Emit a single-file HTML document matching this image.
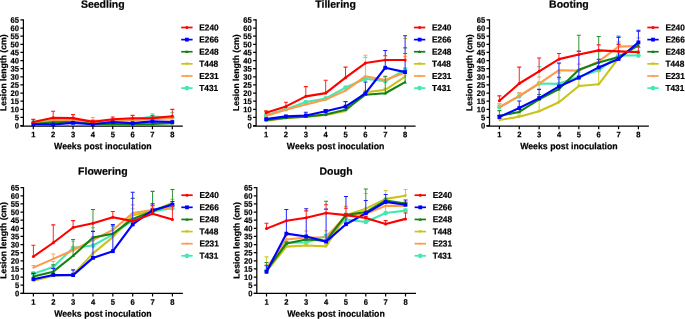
<!DOCTYPE html>
<html><head><meta charset="utf-8"><title>Lesion length</title>
<style>
html,body{margin:0;padding:0;background:#fff;}
body{width:685px;height:319px;overflow:hidden;}
svg{display:block;will-change:transform;filter:blur(0.3px);}
text{font-family:"Liberation Sans",sans-serif;font-weight:bold;fill:#000;stroke:#000;stroke-width:0.2px;}
</style></head>
<body>
<svg width="685" height="319" viewBox="0 0 685 319">
<rect width="685" height="319" fill="#fff"/>
<text transform="translate(102.81 7.7) rotate(0.03)" font-size="10.5" text-anchor="middle">Seedling</text>
<path d="M23.4 19.37V126" fill="none" stroke="#000" stroke-width="1.25"/>
<path d="M20.4 126H182.8" fill="none" stroke="#000" stroke-width="1.25"/>
<path d="M20.4 125.6H23.4M20.4 117.47H23.4M20.4 109.35H23.4M20.4 101.22H23.4M20.4 93.1H23.4M20.4 84.97H23.4M20.4 76.85H23.4M20.4 68.72H23.4M20.4 60.6H23.4M20.4 52.47H23.4M20.4 44.35H23.4M20.4 36.22H23.4M20.4 28.1H23.4M20.4 19.97H23.4M33.3 126V129.2M53.16 126V129.2M73.02 126V129.2M92.88 126V129.2M112.74 126V129.2M132.6 126V129.2M152.46 126V129.2M172.32 126V129.2" stroke="#000" stroke-width="1.2"/>
<text transform="translate(19 128.45) rotate(0.03) scale(1 1.05)" font-size="7.6" text-anchor="end">0</text>
<text transform="translate(19 120.32) rotate(0.03) scale(1 1.05)" font-size="7.6" text-anchor="end">5</text>
<text transform="translate(19 112.2) rotate(0.03) scale(1 1.05)" font-size="7.6" text-anchor="end">10</text>
<text transform="translate(19 104.07) rotate(0.03) scale(1 1.05)" font-size="7.6" text-anchor="end">15</text>
<text transform="translate(19 95.95) rotate(0.03) scale(1 1.05)" font-size="7.6" text-anchor="end">20</text>
<text transform="translate(19 87.82) rotate(0.03) scale(1 1.05)" font-size="7.6" text-anchor="end">25</text>
<text transform="translate(19 79.7) rotate(0.03) scale(1 1.05)" font-size="7.6" text-anchor="end">30</text>
<text transform="translate(19 71.57) rotate(0.03) scale(1 1.05)" font-size="7.6" text-anchor="end">35</text>
<text transform="translate(19 63.45) rotate(0.03) scale(1 1.05)" font-size="7.6" text-anchor="end">40</text>
<text transform="translate(19 55.32) rotate(0.03) scale(1 1.05)" font-size="7.6" text-anchor="end">45</text>
<text transform="translate(19 47.2) rotate(0.03) scale(1 1.05)" font-size="7.6" text-anchor="end">50</text>
<text transform="translate(19 39.07) rotate(0.03) scale(1 1.05)" font-size="7.6" text-anchor="end">55</text>
<text transform="translate(19 30.95) rotate(0.03) scale(1 1.05)" font-size="7.6" text-anchor="end">60</text>
<text transform="translate(19 22.82) rotate(0.03) scale(1 1.05)" font-size="7.6" text-anchor="end">65</text>
<text transform="translate(33.3 137.35) rotate(0.03) scale(1 1.05)" font-size="7.6" text-anchor="middle">1</text>
<text transform="translate(53.16 137.35) rotate(0.03) scale(1 1.05)" font-size="7.6" text-anchor="middle">2</text>
<text transform="translate(73.02 137.35) rotate(0.03) scale(1 1.05)" font-size="7.6" text-anchor="middle">3</text>
<text transform="translate(92.88 137.35) rotate(0.03) scale(1 1.05)" font-size="7.6" text-anchor="middle">4</text>
<text transform="translate(112.74 137.35) rotate(0.03) scale(1 1.05)" font-size="7.6" text-anchor="middle">5</text>
<text transform="translate(132.6 137.35) rotate(0.03) scale(1 1.05)" font-size="7.6" text-anchor="middle">6</text>
<text transform="translate(152.46 137.35) rotate(0.03) scale(1 1.05)" font-size="7.6" text-anchor="middle">7</text>
<text transform="translate(172.32 137.35) rotate(0.03) scale(1 1.05)" font-size="7.6" text-anchor="middle">8</text>
<text transform="translate(102.81 149.3) rotate(0.03) scale(1 1.05)" font-size="8.75" text-anchor="middle">Weeks post inoculation</text>
<text transform="translate(6.2 72.79) rotate(-89.97)" font-size="8.65" text-anchor="middle">Lesion length (cm)</text>
<path d="M73.02 119.1V118.12M152.46 115.69V113.74M172.32 117.47V116.17" stroke="#60ebbb" stroke-width="1" fill="none"/>
<path d="M71.02 115.04H75.02M150.46 113.74H154.46M170.32 112.6H174.32" stroke="#56eab7" stroke-width="1.1" fill="none"/>
<path d="M33.3 122.35L53.16 119.91L73.02 119.1L92.88 122.35L112.74 120.72L132.6 119.91L152.46 116.66L172.32 117.47" stroke="#44e8b0" stroke-width="2.1" fill="none" stroke-linejoin="round"/>
<circle cx="33.3" cy="122.35" r="2.35" fill="#44e8b0"/>
<circle cx="53.16" cy="119.91" r="2.35" fill="#44e8b0"/>
<circle cx="73.02" cy="119.1" r="2.35" fill="#44e8b0"/>
<circle cx="92.88" cy="122.35" r="2.35" fill="#44e8b0"/>
<circle cx="112.74" cy="120.72" r="2.35" fill="#44e8b0"/>
<circle cx="132.6" cy="119.91" r="2.35" fill="#44e8b0"/>
<circle cx="152.46" cy="116.66" r="2.35" fill="#44e8b0"/>
<circle cx="172.32" cy="117.47" r="2.35" fill="#44e8b0"/>
<path d="M92.88 120.24V117.47" stroke="#ffa965" stroke-width="1" fill="none"/>
<path d="M90.88 117.47H94.88" stroke="#ffa45c" stroke-width="1.1" fill="none"/>
<path d="M33.3 123L53.16 120.89L73.02 120.72L92.88 120.72L112.74 120.72L132.6 119.91L152.46 119.1L172.32 118.29" stroke="#ff9a4a" stroke-width="2.1" fill="none" stroke-linejoin="round"/>
<path d="M33.3 121.7L34.6 123L33.3 124.3L32 123Z" fill="#ff9a4a"/>
<path d="M53.16 119.59L54.46 120.89L53.16 122.19L51.86 120.89Z" fill="#ff9a4a"/>
<path d="M73.02 119.42L74.32 120.72L73.02 122.02L71.72 120.72Z" fill="#ff9a4a"/>
<path d="M92.88 119.42L94.18 120.72L92.88 122.02L91.58 120.72Z" fill="#ff9a4a"/>
<path d="M112.74 119.42L114.04 120.72L112.74 122.02L111.44 120.72Z" fill="#ff9a4a"/>
<path d="M132.6 118.61L133.9 119.91L132.6 121.21L131.3 119.91Z" fill="#ff9a4a"/>
<path d="M152.46 117.8L153.76 119.1L152.46 120.4L151.16 119.1Z" fill="#ff9a4a"/>
<path d="M172.32 116.99L173.62 118.29L172.32 119.59L171.02 118.29Z" fill="#ff9a4a"/>
<path d="M33.3 123.97L53.16 123L73.02 122.35L92.88 123.16L112.74 123.16L132.6 123.16L152.46 122.35L172.32 121.54" stroke="#c8c41a" stroke-width="2.1" fill="none" stroke-linejoin="round"/>
<path d="M31.6 122.61L35 122.61L33.3 125.67Z" fill="#c8c41a"/>
<path d="M51.46 121.64L54.86 121.64L53.16 124.7Z" fill="#c8c41a"/>
<path d="M71.32 120.99L74.72 120.99L73.02 124.05Z" fill="#c8c41a"/>
<path d="M91.18 121.8L94.58 121.8L92.88 124.86Z" fill="#c8c41a"/>
<path d="M111.04 121.8L114.44 121.8L112.74 124.86Z" fill="#c8c41a"/>
<path d="M130.9 121.8L134.3 121.8L132.6 124.86Z" fill="#c8c41a"/>
<path d="M150.76 120.99L154.16 120.99L152.46 124.05Z" fill="#c8c41a"/>
<path d="M170.62 120.18L174.02 120.18L172.32 123.24Z" fill="#c8c41a"/>
<path d="M33.3 123.97L53.16 122.35L73.02 122.02L92.88 123.97L112.74 123.97L132.6 124.3L152.46 123.97L172.32 123.16" stroke="#128212" stroke-width="2.1" fill="none" stroke-linejoin="round"/>
<path d="M33.3 122.27L35 125.33L31.6 125.33Z" fill="#128212"/>
<path d="M53.16 120.65L54.86 123.71L51.46 123.71Z" fill="#128212"/>
<path d="M73.02 120.32L74.72 123.38L71.32 123.38Z" fill="#128212"/>
<path d="M92.88 122.27L94.58 125.33L91.18 125.33Z" fill="#128212"/>
<path d="M112.74 122.27L114.44 125.33L111.04 125.33Z" fill="#128212"/>
<path d="M132.6 122.6L134.3 125.66L130.9 125.66Z" fill="#128212"/>
<path d="M152.46 122.27L154.16 125.33L150.76 125.33Z" fill="#128212"/>
<path d="M172.32 121.46L174.02 124.52L170.62 124.52Z" fill="#128212"/>
<path d="M33.3 124.3L53.16 124.46L73.02 122.84L92.88 124.3L112.74 122.02L132.6 123.16L152.46 121.38L172.32 122.02" stroke="#0000ff" stroke-width="2.1" fill="none" stroke-linejoin="round"/>
<rect x="31.4" y="122.4" width="3.8" height="3.8" fill="#0000ff"/>
<rect x="51.26" y="122.56" width="3.8" height="3.8" fill="#0000ff"/>
<rect x="71.12" y="120.94" width="3.8" height="3.8" fill="#0000ff"/>
<rect x="90.98" y="122.4" width="3.8" height="3.8" fill="#0000ff"/>
<rect x="110.84" y="120.12" width="3.8" height="3.8" fill="#0000ff"/>
<rect x="130.7" y="121.26" width="3.8" height="3.8" fill="#0000ff"/>
<rect x="150.56" y="119.47" width="3.8" height="3.8" fill="#0000ff"/>
<rect x="170.42" y="120.12" width="3.8" height="3.8" fill="#0000ff"/>
<path d="M33.3 122.02V119.42M53.16 117.8V111.3M73.02 118.12V114.55M92.88 121.86V120.24M112.74 119.26V116.99M132.6 118.29V115.36M152.46 118.12V115.69M172.32 116.17V109.35" stroke="#ff2626" stroke-width="1" fill="none"/>
<path d="M31.3 119.42H35.3M51.16 111.3H55.16M71.02 114.55H75.02M90.88 120.24H94.88M110.74 116.99H114.74M130.6 115.36H134.6M150.46 115.69H154.46M170.32 109.35H174.32" stroke="#ff1919" stroke-width="1.1" fill="none"/>
<path d="M33.3 122.02L53.16 117.8L73.02 118.12L92.88 121.86L112.74 119.26L132.6 118.29L152.46 118.12L172.32 116.17" stroke="#ff0000" stroke-width="2.1" fill="none" stroke-linejoin="round"/>
<circle cx="33.3" cy="122.02" r="1.5" fill="#ff0000"/>
<circle cx="53.16" cy="117.8" r="1.5" fill="#ff0000"/>
<circle cx="73.02" cy="118.12" r="1.5" fill="#ff0000"/>
<circle cx="92.88" cy="121.86" r="1.5" fill="#ff0000"/>
<circle cx="112.74" cy="119.26" r="1.5" fill="#ff0000"/>
<circle cx="132.6" cy="118.29" r="1.5" fill="#ff0000"/>
<circle cx="152.46" cy="118.12" r="1.5" fill="#ff0000"/>
<circle cx="172.32" cy="116.17" r="1.5" fill="#ff0000"/>
<path d="M181.2 27.5H192.6" stroke="#ff0000" stroke-width="1.7"/>
<circle cx="186.9" cy="27.5" r="1.5" fill="#ff0000"/>
<text transform="translate(199.3 30.4) rotate(0.03) scale(1 1.05)" font-size="8.3">E240</text>
<path d="M181.2 39.62H192.6" stroke="#0000ff" stroke-width="1.7"/>
<rect x="185" y="37.72" width="3.8" height="3.8" fill="#0000ff"/>
<text transform="translate(199.3 42.52) rotate(0.03) scale(1 1.05)" font-size="8.3">E266</text>
<path d="M181.2 51.74H192.6" stroke="#128212" stroke-width="1.7"/>
<path d="M186.9 50.04L188.6 53.1L185.2 53.1Z" fill="#128212"/>
<text transform="translate(199.3 54.64) rotate(0.03) scale(1 1.05)" font-size="8.3">E248</text>
<path d="M181.2 63.86H192.6" stroke="#c8c41a" stroke-width="1.7"/>
<path d="M185.2 62.5L188.6 62.5L186.9 65.56Z" fill="#c8c41a"/>
<text transform="translate(199.3 66.76) rotate(0.03) scale(1 1.05)" font-size="8.3">T448</text>
<path d="M181.2 75.98H192.6" stroke="#ff9a4a" stroke-width="1.7"/>
<path d="M186.9 74.68L188.2 75.98L186.9 77.28L185.6 75.98Z" fill="#ff9a4a"/>
<text transform="translate(199.3 78.88) rotate(0.03) scale(1 1.05)" font-size="8.3">E231</text>
<path d="M181.2 88.1H192.6" stroke="#44e8b0" stroke-width="1.7"/>
<circle cx="186.9" cy="88.1" r="2.35" fill="#44e8b0"/>
<text transform="translate(199.3 91) rotate(0.03) scale(1 1.05)" font-size="8.3">T431</text>
<text transform="translate(335.61 7.7) rotate(0.03)" font-size="10.5" text-anchor="middle">Tillering</text>
<path d="M256.1 19.37V126.1" fill="none" stroke="#000" stroke-width="1.25"/>
<path d="M253.1 126.1H415.6" fill="none" stroke="#000" stroke-width="1.25"/>
<path d="M253.1 125.6H256.1M253.1 117.47H256.1M253.1 109.35H256.1M253.1 101.22H256.1M253.1 93.1H256.1M253.1 84.97H256.1M253.1 76.85H256.1M253.1 68.72H256.1M253.1 60.6H256.1M253.1 52.47H256.1M253.1 44.35H256.1M253.1 36.22H256.1M253.1 28.1H256.1M253.1 19.97H256.1M266.1 126.1V129.3M285.96 126.1V129.3M305.82 126.1V129.3M325.68 126.1V129.3M345.54 126.1V129.3M365.4 126.1V129.3M385.26 126.1V129.3M405.12 126.1V129.3" stroke="#000" stroke-width="1.2"/>
<text transform="translate(251.7 128.45) rotate(0.03) scale(1 1.05)" font-size="7.6" text-anchor="end">0</text>
<text transform="translate(251.7 120.32) rotate(0.03) scale(1 1.05)" font-size="7.6" text-anchor="end">5</text>
<text transform="translate(251.7 112.2) rotate(0.03) scale(1 1.05)" font-size="7.6" text-anchor="end">10</text>
<text transform="translate(251.7 104.07) rotate(0.03) scale(1 1.05)" font-size="7.6" text-anchor="end">15</text>
<text transform="translate(251.7 95.95) rotate(0.03) scale(1 1.05)" font-size="7.6" text-anchor="end">20</text>
<text transform="translate(251.7 87.82) rotate(0.03) scale(1 1.05)" font-size="7.6" text-anchor="end">25</text>
<text transform="translate(251.7 79.7) rotate(0.03) scale(1 1.05)" font-size="7.6" text-anchor="end">30</text>
<text transform="translate(251.7 71.57) rotate(0.03) scale(1 1.05)" font-size="7.6" text-anchor="end">35</text>
<text transform="translate(251.7 63.45) rotate(0.03) scale(1 1.05)" font-size="7.6" text-anchor="end">40</text>
<text transform="translate(251.7 55.32) rotate(0.03) scale(1 1.05)" font-size="7.6" text-anchor="end">45</text>
<text transform="translate(251.7 47.2) rotate(0.03) scale(1 1.05)" font-size="7.6" text-anchor="end">50</text>
<text transform="translate(251.7 39.07) rotate(0.03) scale(1 1.05)" font-size="7.6" text-anchor="end">55</text>
<text transform="translate(251.7 30.95) rotate(0.03) scale(1 1.05)" font-size="7.6" text-anchor="end">60</text>
<text transform="translate(251.7 22.82) rotate(0.03) scale(1 1.05)" font-size="7.6" text-anchor="end">65</text>
<text transform="translate(266.1 137.35) rotate(0.03) scale(1 1.05)" font-size="7.6" text-anchor="middle">1</text>
<text transform="translate(285.96 137.35) rotate(0.03) scale(1 1.05)" font-size="7.6" text-anchor="middle">2</text>
<text transform="translate(305.82 137.35) rotate(0.03) scale(1 1.05)" font-size="7.6" text-anchor="middle">3</text>
<text transform="translate(325.68 137.35) rotate(0.03) scale(1 1.05)" font-size="7.6" text-anchor="middle">4</text>
<text transform="translate(345.54 137.35) rotate(0.03) scale(1 1.05)" font-size="7.6" text-anchor="middle">5</text>
<text transform="translate(365.4 137.35) rotate(0.03) scale(1 1.05)" font-size="7.6" text-anchor="middle">6</text>
<text transform="translate(385.26 137.35) rotate(0.03) scale(1 1.05)" font-size="7.6" text-anchor="middle">7</text>
<text transform="translate(405.12 137.35) rotate(0.03) scale(1 1.05)" font-size="7.6" text-anchor="middle">8</text>
<text transform="translate(335.61 149.3) rotate(0.03) scale(1 1.05)" font-size="8.75" text-anchor="middle">Weeks post inoculation</text>
<text transform="translate(238.9 72.79) rotate(-89.97)" font-size="8.65" text-anchor="middle">Lesion length (cm)</text>
<path d="M365.4 78.8V76.2" stroke="#60ebbb" stroke-width="1" fill="none"/>
<path d="M363.4 57.35H367.4M383.26 79.61H387.26M403.12 68.07H407.12" stroke="#56eab7" stroke-width="1.1" fill="none"/>
<path d="M266.1 115.36L285.96 109.19L305.82 102.04L325.68 98.46L345.54 87.57L365.4 78.8L385.26 81.24L405.12 69.7" stroke="#44e8b0" stroke-width="2.1" fill="none" stroke-linejoin="round"/>
<circle cx="266.1" cy="115.36" r="2.35" fill="#44e8b0"/>
<circle cx="285.96" cy="109.19" r="2.35" fill="#44e8b0"/>
<circle cx="305.82" cy="102.04" r="2.35" fill="#44e8b0"/>
<circle cx="325.68" cy="98.46" r="2.35" fill="#44e8b0"/>
<circle cx="345.54" cy="87.57" r="2.35" fill="#44e8b0"/>
<circle cx="365.4" cy="78.8" r="2.35" fill="#44e8b0"/>
<circle cx="385.26" cy="81.24" r="2.35" fill="#44e8b0"/>
<circle cx="405.12" cy="69.7" r="2.35" fill="#44e8b0"/>
<path d="M266.1 111.14V110.49M266.1 115.85V112.76M365.4 76.2V55.24" stroke="#ffa965" stroke-width="1" fill="none"/>
<path d="M264.1 110.49H268.1M363.4 55.24H367.4M383.26 76.85H387.26M403.12 56.21H407.12" stroke="#ffa45c" stroke-width="1.1" fill="none"/>
<path d="M266.1 115.85L285.96 109.67L305.82 104.47L325.68 99.6L345.54 90.66L365.4 76.2L385.26 80.1L405.12 72.46" stroke="#ff9a4a" stroke-width="2.1" fill="none" stroke-linejoin="round"/>
<path d="M266.1 114.55L267.4 115.85L266.1 117.15L264.8 115.85Z" fill="#ff9a4a"/>
<path d="M285.96 108.38L287.26 109.67L285.96 110.97L284.66 109.67Z" fill="#ff9a4a"/>
<path d="M305.82 103.17L307.12 104.47L305.82 105.77L304.52 104.47Z" fill="#ff9a4a"/>
<path d="M325.68 98.3L326.98 99.6L325.68 100.9L324.38 99.6Z" fill="#ff9a4a"/>
<path d="M345.54 89.36L346.84 90.66L345.54 91.96L344.24 90.66Z" fill="#ff9a4a"/>
<path d="M365.4 74.9L366.7 76.2L365.4 77.5L364.1 76.2Z" fill="#ff9a4a"/>
<path d="M385.26 78.8L386.56 80.1L385.26 81.4L383.96 80.1Z" fill="#ff9a4a"/>
<path d="M405.12 71.16L406.42 72.46L405.12 73.76L403.82 72.46Z" fill="#ff9a4a"/>
<path d="M363.4 90.66H367.4M383.26 88.22H387.26M403.12 38.5H407.12" stroke="#cdc930" stroke-width="1.1" fill="none"/>
<path d="M266.1 120.72L285.96 118.29L305.82 116.66L325.68 115.04L345.54 110.97L365.4 92.29L385.26 89.85L405.12 76.53" stroke="#c8c41a" stroke-width="2.1" fill="none" stroke-linejoin="round"/>
<path d="M264.4 119.36L267.8 119.36L266.1 122.42Z" fill="#c8c41a"/>
<path d="M284.26 116.93L287.66 116.93L285.96 119.99Z" fill="#c8c41a"/>
<path d="M304.12 115.3L307.52 115.3L305.82 118.36Z" fill="#c8c41a"/>
<path d="M323.98 113.68L327.38 113.68L325.68 116.74Z" fill="#c8c41a"/>
<path d="M343.84 109.61L347.24 109.61L345.54 112.67Z" fill="#c8c41a"/>
<path d="M363.7 90.93L367.1 90.93L365.4 93.99Z" fill="#c8c41a"/>
<path d="M383.56 88.49L386.96 88.49L385.26 91.55Z" fill="#c8c41a"/>
<path d="M403.42 75.17L406.82 75.17L405.12 78.23Z" fill="#c8c41a"/>
<path d="M345.54 101.71V101.55M345.54 109.67V106.59M365.4 94.72V93.42M385.26 93.26V76.2M405.12 82.05V72.14" stroke="#359435" stroke-width="1" fill="none"/>
<path d="M343.54 101.55H347.54M363.4 93.1H367.4M383.26 76.2H387.26M403.12 47.92H407.12" stroke="#298e29" stroke-width="1.1" fill="none"/>
<path d="M266.1 120.24L285.96 117.64L305.82 116.66L325.68 114.55L345.54 109.67L365.4 94.72L385.26 93.26L405.12 82.05" stroke="#128212" stroke-width="2.1" fill="none" stroke-linejoin="round"/>
<path d="M266.1 118.54L267.8 121.6L264.4 121.6Z" fill="#128212"/>
<path d="M285.96 115.94L287.66 119L284.26 119Z" fill="#128212"/>
<path d="M305.82 114.96L307.52 118.02L304.12 118.02Z" fill="#128212"/>
<path d="M325.68 112.85L327.38 115.91L323.98 115.91Z" fill="#128212"/>
<path d="M345.54 107.97L347.24 111.03L343.84 111.03Z" fill="#128212"/>
<path d="M365.4 93.02L367.1 96.08L363.7 96.08Z" fill="#128212"/>
<path d="M385.26 91.56L386.96 94.62L383.56 94.62Z" fill="#128212"/>
<path d="M405.12 80.35L406.82 83.41L403.42 83.41Z" fill="#128212"/>
<path d="M305.82 115.52V112.27M325.68 111.3V109.67M345.54 106.59V101.71M365.4 93.42V82.05M385.26 55.73V50.53M385.26 67.75V59.95M405.12 53.45V35.74M405.12 72.14V59.95" stroke="#2626ff" stroke-width="1" fill="none"/>
<path d="M303.82 112.27H307.82M323.68 109.67H327.68M343.54 101.71H347.54M363.4 82.05H367.4M383.26 50.53H387.26M403.12 35.74H407.12" stroke="#1919ff" stroke-width="1.1" fill="none"/>
<path d="M266.1 119.1L285.96 116.34L305.82 115.52L325.68 111.3L345.54 106.59L365.4 93.42L385.26 67.75L405.12 72.14" stroke="#0000ff" stroke-width="2.1" fill="none" stroke-linejoin="round"/>
<rect x="264.2" y="117.2" width="3.8" height="3.8" fill="#0000ff"/>
<rect x="284.06" y="114.44" width="3.8" height="3.8" fill="#0000ff"/>
<rect x="303.92" y="113.62" width="3.8" height="3.8" fill="#0000ff"/>
<rect x="323.78" y="109.4" width="3.8" height="3.8" fill="#0000ff"/>
<rect x="343.64" y="104.69" width="3.8" height="3.8" fill="#0000ff"/>
<rect x="363.5" y="91.52" width="3.8" height="3.8" fill="#0000ff"/>
<rect x="383.36" y="65.85" width="3.8" height="3.8" fill="#0000ff"/>
<rect x="403.22" y="70.24" width="3.8" height="3.8" fill="#0000ff"/>
<path d="M266.1 112.76V111.14M285.96 106.42V102.2M305.82 96.35V86.6M325.68 93.1V80.26M345.54 77.66V67.1M385.26 59.95V55.73M405.12 59.95V53.45" stroke="#ff2626" stroke-width="1" fill="none"/>
<path d="M264.1 111.14H268.1M283.96 102.2H287.96M303.82 86.6H307.82M323.68 80.26H327.68M343.54 67.1H347.54M383.26 55.73H387.26M403.12 53.45H407.12" stroke="#ff1919" stroke-width="1.1" fill="none"/>
<path d="M266.1 112.76L285.96 106.42L305.82 96.35L325.68 93.1L345.54 77.66L365.4 63.04L385.26 59.95L405.12 59.95" stroke="#ff0000" stroke-width="2.1" fill="none" stroke-linejoin="round"/>
<circle cx="266.1" cy="112.76" r="1.5" fill="#ff0000"/>
<circle cx="285.96" cy="106.42" r="1.5" fill="#ff0000"/>
<circle cx="305.82" cy="96.35" r="1.5" fill="#ff0000"/>
<circle cx="325.68" cy="93.1" r="1.5" fill="#ff0000"/>
<circle cx="345.54" cy="77.66" r="1.5" fill="#ff0000"/>
<circle cx="365.4" cy="63.04" r="1.5" fill="#ff0000"/>
<circle cx="385.26" cy="59.95" r="1.5" fill="#ff0000"/>
<circle cx="405.12" cy="59.95" r="1.5" fill="#ff0000"/>
<path d="M413.9 27.5H425.3" stroke="#ff0000" stroke-width="1.7"/>
<circle cx="419.6" cy="27.5" r="1.5" fill="#ff0000"/>
<text transform="translate(432 30.4) rotate(0.03) scale(1 1.05)" font-size="8.3">E240</text>
<path d="M413.9 39.62H425.3" stroke="#0000ff" stroke-width="1.7"/>
<rect x="417.7" y="37.72" width="3.8" height="3.8" fill="#0000ff"/>
<text transform="translate(432 42.52) rotate(0.03) scale(1 1.05)" font-size="8.3">E266</text>
<path d="M413.9 51.74H425.3" stroke="#128212" stroke-width="1.7"/>
<path d="M419.6 50.04L421.3 53.1L417.9 53.1Z" fill="#128212"/>
<text transform="translate(432 54.64) rotate(0.03) scale(1 1.05)" font-size="8.3">E248</text>
<path d="M413.9 63.86H425.3" stroke="#c8c41a" stroke-width="1.7"/>
<path d="M417.9 62.5L421.3 62.5L419.6 65.56Z" fill="#c8c41a"/>
<text transform="translate(432 66.76) rotate(0.03) scale(1 1.05)" font-size="8.3">T448</text>
<path d="M413.9 75.98H425.3" stroke="#ff9a4a" stroke-width="1.7"/>
<path d="M419.6 74.68L420.9 75.98L419.6 77.28L418.3 75.98Z" fill="#ff9a4a"/>
<text transform="translate(432 78.88) rotate(0.03) scale(1 1.05)" font-size="8.3">E231</text>
<path d="M413.9 88.1H425.3" stroke="#44e8b0" stroke-width="1.7"/>
<circle cx="419.6" cy="88.1" r="2.35" fill="#44e8b0"/>
<text transform="translate(432 91) rotate(0.03) scale(1 1.05)" font-size="8.3">T431</text>
<text transform="translate(568.91 7.7) rotate(0.03)" font-size="10.5" text-anchor="middle">Booting</text>
<path d="M489.5 19.37V126.1" fill="none" stroke="#000" stroke-width="1.25"/>
<path d="M486.5 126.1H648.9" fill="none" stroke="#000" stroke-width="1.25"/>
<path d="M486.5 125.6H489.5M486.5 117.47H489.5M486.5 109.35H489.5M486.5 101.22H489.5M486.5 93.1H489.5M486.5 84.97H489.5M486.5 76.85H489.5M486.5 68.72H489.5M486.5 60.6H489.5M486.5 52.47H489.5M486.5 44.35H489.5M486.5 36.22H489.5M486.5 28.1H489.5M486.5 19.97H489.5M499.4 126.1V129.3M519.26 126.1V129.3M539.12 126.1V129.3M558.98 126.1V129.3M578.84 126.1V129.3M598.7 126.1V129.3M618.56 126.1V129.3M638.42 126.1V129.3" stroke="#000" stroke-width="1.2"/>
<text transform="translate(485.1 128.45) rotate(0.03) scale(1 1.05)" font-size="7.6" text-anchor="end">0</text>
<text transform="translate(485.1 120.32) rotate(0.03) scale(1 1.05)" font-size="7.6" text-anchor="end">5</text>
<text transform="translate(485.1 112.2) rotate(0.03) scale(1 1.05)" font-size="7.6" text-anchor="end">10</text>
<text transform="translate(485.1 104.07) rotate(0.03) scale(1 1.05)" font-size="7.6" text-anchor="end">15</text>
<text transform="translate(485.1 95.95) rotate(0.03) scale(1 1.05)" font-size="7.6" text-anchor="end">20</text>
<text transform="translate(485.1 87.82) rotate(0.03) scale(1 1.05)" font-size="7.6" text-anchor="end">25</text>
<text transform="translate(485.1 79.7) rotate(0.03) scale(1 1.05)" font-size="7.6" text-anchor="end">30</text>
<text transform="translate(485.1 71.57) rotate(0.03) scale(1 1.05)" font-size="7.6" text-anchor="end">35</text>
<text transform="translate(485.1 63.45) rotate(0.03) scale(1 1.05)" font-size="7.6" text-anchor="end">40</text>
<text transform="translate(485.1 55.32) rotate(0.03) scale(1 1.05)" font-size="7.6" text-anchor="end">45</text>
<text transform="translate(485.1 47.2) rotate(0.03) scale(1 1.05)" font-size="7.6" text-anchor="end">50</text>
<text transform="translate(485.1 39.07) rotate(0.03) scale(1 1.05)" font-size="7.6" text-anchor="end">55</text>
<text transform="translate(485.1 30.95) rotate(0.03) scale(1 1.05)" font-size="7.6" text-anchor="end">60</text>
<text transform="translate(485.1 22.82) rotate(0.03) scale(1 1.05)" font-size="7.6" text-anchor="end">65</text>
<text transform="translate(499.4 137.35) rotate(0.03) scale(1 1.05)" font-size="7.6" text-anchor="middle">1</text>
<text transform="translate(519.26 137.35) rotate(0.03) scale(1 1.05)" font-size="7.6" text-anchor="middle">2</text>
<text transform="translate(539.12 137.35) rotate(0.03) scale(1 1.05)" font-size="7.6" text-anchor="middle">3</text>
<text transform="translate(558.98 137.35) rotate(0.03) scale(1 1.05)" font-size="7.6" text-anchor="middle">4</text>
<text transform="translate(578.84 137.35) rotate(0.03) scale(1 1.05)" font-size="7.6" text-anchor="middle">5</text>
<text transform="translate(598.7 137.35) rotate(0.03) scale(1 1.05)" font-size="7.6" text-anchor="middle">6</text>
<text transform="translate(618.56 137.35) rotate(0.03) scale(1 1.05)" font-size="7.6" text-anchor="middle">7</text>
<text transform="translate(638.42 137.35) rotate(0.03) scale(1 1.05)" font-size="7.6" text-anchor="middle">8</text>
<text transform="translate(568.91 149.3) rotate(0.03) scale(1 1.05)" font-size="8.75" text-anchor="middle">Weeks post inoculation</text>
<text transform="translate(472.3 72.79) rotate(-89.97)" font-size="8.65" text-anchor="middle">Lesion length (cm)</text>
<path d="M499.4 103.99V103.82M519.26 96.35V95.86M539.12 77.01V71.32M598.7 68.07V67.42M618.56 37.04V35.9M638.42 55.56V52.15" stroke="#60ebbb" stroke-width="1" fill="none"/>
<path d="M497.4 103.82H501.4M517.26 93.1H521.26M537.12 66.61H541.12M556.98 78.96H560.98M576.84 71.97H580.84M596.7 62.22H600.7M616.56 35.9H620.56M636.42 50.69H640.42" stroke="#56eab7" stroke-width="1.1" fill="none"/>
<path d="M499.4 107.07L519.26 96.35L539.12 83.51L558.98 83.84L578.84 76.85L598.7 70.35L618.56 55.4L638.42 55.56" stroke="#44e8b0" stroke-width="2.1" fill="none" stroke-linejoin="round"/>
<circle cx="499.4" cy="107.07" r="2.35" fill="#44e8b0"/>
<circle cx="519.26" cy="96.35" r="2.35" fill="#44e8b0"/>
<circle cx="539.12" cy="83.51" r="2.35" fill="#44e8b0"/>
<circle cx="558.98" cy="83.84" r="2.35" fill="#44e8b0"/>
<circle cx="578.84" cy="76.85" r="2.35" fill="#44e8b0"/>
<circle cx="598.7" cy="70.35" r="2.35" fill="#44e8b0"/>
<circle cx="618.56" cy="55.4" r="2.35" fill="#44e8b0"/>
<circle cx="638.42" cy="55.56" r="2.35" fill="#44e8b0"/>
<path d="M499.4 107.24V103.99M519.26 95.86V92.61M539.12 82.05V77.01M638.42 45.97V45.33" stroke="#ffa965" stroke-width="1" fill="none"/>
<path d="M497.4 103.99H501.4M517.26 92.61H521.26M537.12 77.01H541.12M556.98 63.69H560.98M576.84 64.17H580.84M596.7 51.66H600.7M616.56 43.37H620.56M636.42 42.72H640.42" stroke="#ffa45c" stroke-width="1.1" fill="none"/>
<path d="M499.4 107.24L519.26 95.86L539.12 83.51L558.98 70.19L578.84 70.67L598.7 61.41L618.56 46.62L638.42 45.97" stroke="#ff9a4a" stroke-width="2.1" fill="none" stroke-linejoin="round"/>
<path d="M499.4 105.94L500.7 107.24L499.4 108.54L498.1 107.24Z" fill="#ff9a4a"/>
<path d="M519.26 94.56L520.56 95.86L519.26 97.16L517.96 95.86Z" fill="#ff9a4a"/>
<path d="M539.12 82.21L540.42 83.51L539.12 84.81L537.82 83.51Z" fill="#ff9a4a"/>
<path d="M558.98 68.89L560.28 70.19L558.98 71.49L557.68 70.19Z" fill="#ff9a4a"/>
<path d="M578.84 69.38L580.14 70.67L578.84 71.97L577.54 70.67Z" fill="#ff9a4a"/>
<path d="M598.7 60.11L600 61.41L598.7 62.71L597.4 61.41Z" fill="#ff9a4a"/>
<path d="M618.56 45.32L619.86 46.62L618.56 47.92L617.26 46.62Z" fill="#ff9a4a"/>
<path d="M638.42 44.67L639.72 45.97L638.42 47.27L637.12 45.97Z" fill="#ff9a4a"/>
<path d="M499.4 120.07V118.45M519.26 116.66V115.04M539.12 89.36V82.05M539.12 111.3V99.44M558.98 102.2V89.04M578.84 85.95V77.66M598.7 84.32V68.07" stroke="#d0cc3c" stroke-width="1" fill="none"/>
<path d="M497.4 118.45H501.4M517.26 115.04H521.26M537.12 82.05H541.12M556.98 72.95H560.98M576.84 69.7H580.84M596.7 68.07H600.7M616.56 41.91H620.56M636.42 37.85H640.42" stroke="#cdc930" stroke-width="1.1" fill="none"/>
<path d="M499.4 120.07L519.26 116.66L539.12 111.3L558.98 102.2L578.84 85.95L598.7 84.32L618.56 58.16L638.42 44.35" stroke="#c8c41a" stroke-width="2.1" fill="none" stroke-linejoin="round"/>
<path d="M497.7 118.71L501.1 118.71L499.4 121.77Z" fill="#c8c41a"/>
<path d="M517.56 115.3L520.96 115.3L519.26 118.36Z" fill="#c8c41a"/>
<path d="M537.42 109.94L540.82 109.94L539.12 113Z" fill="#c8c41a"/>
<path d="M557.28 100.84L560.68 100.84L558.98 103.9Z" fill="#c8c41a"/>
<path d="M577.14 84.59L580.54 84.59L578.84 87.65Z" fill="#c8c41a"/>
<path d="M597 82.96L600.4 82.96L598.7 86.02Z" fill="#c8c41a"/>
<path d="M616.86 56.8L620.26 56.8L618.56 59.86Z" fill="#c8c41a"/>
<path d="M636.72 42.99L640.12 42.99L638.42 46.05Z" fill="#c8c41a"/>
<path d="M499.4 115.36V110.65M519.26 111.95V108.7M539.12 99.44V98.14M558.98 89.04V86.44M578.84 51.34V35.25M598.7 44.84V36.55M598.7 59.3V50.36M638.42 45.33V42.4" stroke="#359435" stroke-width="1" fill="none"/>
<path d="M497.4 110.65H501.4M517.26 108.7H521.26M537.12 94.56H541.12M556.98 77.34H560.98M576.84 35.25H580.84M596.7 36.55H600.7M616.56 37.52H620.56M636.42 31.35H640.42" stroke="#298e29" stroke-width="1.1" fill="none"/>
<path d="M499.4 115.69L519.26 111.95L539.12 99.44L558.98 89.04L578.84 69.7L598.7 62.55L618.56 57.02L638.42 45.33" stroke="#128212" stroke-width="2.1" fill="none" stroke-linejoin="round"/>
<path d="M499.4 113.99L501.1 117.05L497.7 117.05Z" fill="#128212"/>
<path d="M519.26 110.25L520.96 113.31L517.56 113.31Z" fill="#128212"/>
<path d="M539.12 97.74L540.82 100.8L537.42 100.8Z" fill="#128212"/>
<path d="M558.98 87.34L560.68 90.4L557.28 90.4Z" fill="#128212"/>
<path d="M578.84 68L580.54 71.06L577.14 71.06Z" fill="#128212"/>
<path d="M598.7 60.85L600.4 63.91L597 63.91Z" fill="#128212"/>
<path d="M618.56 55.32L620.26 58.38L616.86 58.38Z" fill="#128212"/>
<path d="M638.42 43.62L640.12 46.69L636.72 46.69Z" fill="#128212"/>
<path d="M499.4 116.99V115.36M519.26 108.05V101.06M539.12 98.14V89.36M558.98 86.44V63.04M578.84 77.66V54.59M598.7 67.42V59.3M618.56 44.67V37.04M618.56 58.97V51.34M638.42 42.4V30.21" stroke="#2626ff" stroke-width="1" fill="none"/>
<path d="M497.4 115.36H501.4M517.26 101.06H521.26M537.12 89.36H541.12M556.98 63.04H560.98M576.84 51.34H580.84M596.7 59.3H600.7M616.56 37.04H620.56M636.42 30.21H640.42" stroke="#1919ff" stroke-width="1.1" fill="none"/>
<path d="M499.4 116.99L519.26 108.05L539.12 98.14L558.98 86.44L578.84 77.66L598.7 67.42L618.56 58.97L638.42 42.4" stroke="#0000ff" stroke-width="2.1" fill="none" stroke-linejoin="round"/>
<rect x="497.5" y="115.09" width="3.8" height="3.8" fill="#0000ff"/>
<rect x="517.36" y="106.15" width="3.8" height="3.8" fill="#0000ff"/>
<rect x="537.22" y="96.24" width="3.8" height="3.8" fill="#0000ff"/>
<rect x="557.08" y="84.54" width="3.8" height="3.8" fill="#0000ff"/>
<rect x="576.94" y="75.76" width="3.8" height="3.8" fill="#0000ff"/>
<rect x="596.8" y="65.52" width="3.8" height="3.8" fill="#0000ff"/>
<rect x="616.66" y="57.07" width="3.8" height="3.8" fill="#0000ff"/>
<rect x="636.52" y="40.5" width="3.8" height="3.8" fill="#0000ff"/>
<path d="M499.4 100.74V95.86M519.26 83.51V67.1M539.12 71.32V58M558.98 59.14V53.45M578.84 54.59V51.34M598.7 50.36V44.84M618.56 51.34V44.67M638.42 52.15V47.27" stroke="#ff2626" stroke-width="1" fill="none"/>
<path d="M497.4 95.86H501.4M517.26 67.1H521.26M537.12 58H541.12M556.98 53.45H560.98M576.84 51.34H580.84M596.7 44.84H600.7M616.56 44.67H620.56M636.42 47.27H640.42" stroke="#ff1919" stroke-width="1.1" fill="none"/>
<path d="M499.4 100.74L519.26 83.51L539.12 71.32L558.98 59.14L578.84 54.59L598.7 50.36L618.56 51.34L638.42 52.15" stroke="#ff0000" stroke-width="2.1" fill="none" stroke-linejoin="round"/>
<circle cx="499.4" cy="100.74" r="1.5" fill="#ff0000"/>
<circle cx="519.26" cy="83.51" r="1.5" fill="#ff0000"/>
<circle cx="539.12" cy="71.32" r="1.5" fill="#ff0000"/>
<circle cx="558.98" cy="59.14" r="1.5" fill="#ff0000"/>
<circle cx="578.84" cy="54.59" r="1.5" fill="#ff0000"/>
<circle cx="598.7" cy="50.36" r="1.5" fill="#ff0000"/>
<circle cx="618.56" cy="51.34" r="1.5" fill="#ff0000"/>
<circle cx="638.42" cy="52.15" r="1.5" fill="#ff0000"/>
<path d="M647.3 27.5H658.7" stroke="#ff0000" stroke-width="1.7"/>
<circle cx="653" cy="27.5" r="1.5" fill="#ff0000"/>
<text transform="translate(665.4 30.4) rotate(0.03) scale(1 1.05)" font-size="8.3">E240</text>
<path d="M647.3 39.62H658.7" stroke="#0000ff" stroke-width="1.7"/>
<rect x="651.1" y="37.72" width="3.8" height="3.8" fill="#0000ff"/>
<text transform="translate(665.4 42.52) rotate(0.03) scale(1 1.05)" font-size="8.3">E266</text>
<path d="M647.3 51.74H658.7" stroke="#128212" stroke-width="1.7"/>
<path d="M653 50.04L654.7 53.1L651.3 53.1Z" fill="#128212"/>
<text transform="translate(665.4 54.64) rotate(0.03) scale(1 1.05)" font-size="8.3">E248</text>
<path d="M647.3 63.86H658.7" stroke="#c8c41a" stroke-width="1.7"/>
<path d="M651.3 62.5L654.7 62.5L653 65.56Z" fill="#c8c41a"/>
<text transform="translate(665.4 66.76) rotate(0.03) scale(1 1.05)" font-size="8.3">T448</text>
<path d="M647.3 75.98H658.7" stroke="#ff9a4a" stroke-width="1.7"/>
<path d="M653 74.68L654.3 75.98L653 77.28L651.7 75.98Z" fill="#ff9a4a"/>
<text transform="translate(665.4 78.88) rotate(0.03) scale(1 1.05)" font-size="8.3">E231</text>
<path d="M647.3 88.1H658.7" stroke="#44e8b0" stroke-width="1.7"/>
<circle cx="653" cy="88.1" r="2.35" fill="#44e8b0"/>
<text transform="translate(665.4 91) rotate(0.03) scale(1 1.05)" font-size="8.3">T431</text>
<text transform="translate(102.91 174.8) rotate(0.03)" font-size="10.5" text-anchor="middle">Flowering</text>
<path d="M23.5 187.08V293.4" fill="none" stroke="#000" stroke-width="1.25"/>
<path d="M20.5 293.4H182.9" fill="none" stroke="#000" stroke-width="1.25"/>
<path d="M20.5 293.3H23.5M20.5 285.18H23.5M20.5 277.05H23.5M20.5 268.93H23.5M20.5 260.8H23.5M20.5 252.68H23.5M20.5 244.55H23.5M20.5 236.43H23.5M20.5 228.3H23.5M20.5 220.18H23.5M20.5 212.05H23.5M20.5 203.93H23.5M20.5 195.8H23.5M20.5 187.68H23.5M33.4 293.4V296.6M53.26 293.4V296.6M73.12 293.4V296.6M92.98 293.4V296.6M112.84 293.4V296.6M132.7 293.4V296.6M152.56 293.4V296.6M172.42 293.4V296.6" stroke="#000" stroke-width="1.2"/>
<text transform="translate(19.1 296.15) rotate(0.03) scale(1 1.05)" font-size="7.6" text-anchor="end">0</text>
<text transform="translate(19.1 288.03) rotate(0.03) scale(1 1.05)" font-size="7.6" text-anchor="end">5</text>
<text transform="translate(19.1 279.9) rotate(0.03) scale(1 1.05)" font-size="7.6" text-anchor="end">10</text>
<text transform="translate(19.1 271.78) rotate(0.03) scale(1 1.05)" font-size="7.6" text-anchor="end">15</text>
<text transform="translate(19.1 263.65) rotate(0.03) scale(1 1.05)" font-size="7.6" text-anchor="end">20</text>
<text transform="translate(19.1 255.53) rotate(0.03) scale(1 1.05)" font-size="7.6" text-anchor="end">25</text>
<text transform="translate(19.1 247.4) rotate(0.03) scale(1 1.05)" font-size="7.6" text-anchor="end">30</text>
<text transform="translate(19.1 239.28) rotate(0.03) scale(1 1.05)" font-size="7.6" text-anchor="end">35</text>
<text transform="translate(19.1 231.15) rotate(0.03) scale(1 1.05)" font-size="7.6" text-anchor="end">40</text>
<text transform="translate(19.1 223.03) rotate(0.03) scale(1 1.05)" font-size="7.6" text-anchor="end">45</text>
<text transform="translate(19.1 214.9) rotate(0.03) scale(1 1.05)" font-size="7.6" text-anchor="end">50</text>
<text transform="translate(19.1 206.78) rotate(0.03) scale(1 1.05)" font-size="7.6" text-anchor="end">55</text>
<text transform="translate(19.1 198.65) rotate(0.03) scale(1 1.05)" font-size="7.6" text-anchor="end">60</text>
<text transform="translate(19.1 190.53) rotate(0.03) scale(1 1.05)" font-size="7.6" text-anchor="end">65</text>
<text transform="translate(33.4 304.75) rotate(0.03) scale(1 1.05)" font-size="7.6" text-anchor="middle">1</text>
<text transform="translate(53.26 304.75) rotate(0.03) scale(1 1.05)" font-size="7.6" text-anchor="middle">2</text>
<text transform="translate(73.12 304.75) rotate(0.03) scale(1 1.05)" font-size="7.6" text-anchor="middle">3</text>
<text transform="translate(92.98 304.75) rotate(0.03) scale(1 1.05)" font-size="7.6" text-anchor="middle">4</text>
<text transform="translate(112.84 304.75) rotate(0.03) scale(1 1.05)" font-size="7.6" text-anchor="middle">5</text>
<text transform="translate(132.7 304.75) rotate(0.03) scale(1 1.05)" font-size="7.6" text-anchor="middle">6</text>
<text transform="translate(152.56 304.75) rotate(0.03) scale(1 1.05)" font-size="7.6" text-anchor="middle">7</text>
<text transform="translate(172.42 304.75) rotate(0.03) scale(1 1.05)" font-size="7.6" text-anchor="middle">8</text>
<text transform="translate(102.91 316.7) rotate(0.03) scale(1 1.05)" font-size="8.75" text-anchor="middle">Weeks post inoculation</text>
<text transform="translate(6.3 240.49) rotate(-89.97)" font-size="8.65" text-anchor="middle">Lesion length (cm)</text>
<path d="M33.4 273.15V272.01M53.26 264.7V261.45" stroke="#60ebbb" stroke-width="1" fill="none"/>
<path d="M31.4 272.01H35.4M51.26 261.45H55.26M71.12 241.3H75.12M90.98 240.65H94.98M110.84 226.51H114.84M130.7 213.68H134.7M150.56 208.15H154.56M170.42 205.06H174.42" stroke="#56eab7" stroke-width="1.1" fill="none"/>
<path d="M33.4 273.64L53.26 266.98L73.12 247.8L92.98 245.53L112.84 234.64L132.7 220.18L152.56 211.4L172.42 208.31" stroke="#44e8b0" stroke-width="2.1" fill="none" stroke-linejoin="round"/>
<circle cx="33.4" cy="273.64" r="2.35" fill="#44e8b0"/>
<circle cx="53.26" cy="266.98" r="2.35" fill="#44e8b0"/>
<circle cx="73.12" cy="247.8" r="2.35" fill="#44e8b0"/>
<circle cx="92.98" cy="245.53" r="2.35" fill="#44e8b0"/>
<circle cx="112.84" cy="234.64" r="2.35" fill="#44e8b0"/>
<circle cx="132.7" cy="220.18" r="2.35" fill="#44e8b0"/>
<circle cx="152.56" cy="211.4" r="2.35" fill="#44e8b0"/>
<circle cx="172.42" cy="208.31" r="2.35" fill="#44e8b0"/>
<path d="M33.4 267.62V265.51M53.26 258.85V253.98M172.42 205.71V204.74" stroke="#ffa965" stroke-width="1" fill="none"/>
<path d="M31.4 265.51H35.4M51.26 253.98H55.26M71.12 246.99H75.12M90.98 236.75H94.98M110.84 228.3H114.84M130.7 204.9H134.7M150.56 206.69H154.56M170.42 203.93H174.42" stroke="#ffa45c" stroke-width="1.1" fill="none"/>
<path d="M33.4 267.62L53.26 258.85L73.12 250.24L92.98 240L112.84 229.93L132.7 213.03L152.56 209.94L172.42 207.18" stroke="#ff9a4a" stroke-width="2.1" fill="none" stroke-linejoin="round"/>
<path d="M33.4 266.32L34.7 267.62L33.4 268.93L32.1 267.62Z" fill="#ff9a4a"/>
<path d="M53.26 257.55L54.56 258.85L53.26 260.15L51.96 258.85Z" fill="#ff9a4a"/>
<path d="M73.12 248.94L74.42 250.24L73.12 251.54L71.82 250.24Z" fill="#ff9a4a"/>
<path d="M92.98 238.7L94.28 240L92.98 241.3L91.68 240Z" fill="#ff9a4a"/>
<path d="M112.84 228.62L114.14 229.93L112.84 231.23L111.54 229.93Z" fill="#ff9a4a"/>
<path d="M132.7 211.73L134 213.03L132.7 214.33L131.4 213.03Z" fill="#ff9a4a"/>
<path d="M152.56 208.64L153.86 209.94L152.56 211.24L151.26 209.94Z" fill="#ff9a4a"/>
<path d="M172.42 205.88L173.72 207.18L172.42 208.48L171.12 207.18Z" fill="#ff9a4a"/>
<path d="M33.4 280.79V279.16M53.26 275.75V274.94" stroke="#d0cc3c" stroke-width="1" fill="none"/>
<path d="M31.4 279.16H35.4M51.26 274.12H55.26M71.12 272.99H75.12M90.98 227.65H94.98M110.84 228.95H114.84M130.7 208.8H134.7M150.56 204.74H154.56M170.42 199.38H174.42" stroke="#cdc930" stroke-width="1.1" fill="none"/>
<path d="M33.4 280.79L53.26 275.75L73.12 274.61L92.98 253.33L112.84 237.08L132.7 215.3L152.56 211.24L172.42 202.62" stroke="#c8c41a" stroke-width="2.1" fill="none" stroke-linejoin="round"/>
<path d="M31.7 279.43L35.1 279.43L33.4 282.49Z" fill="#c8c41a"/>
<path d="M51.56 274.39L54.96 274.39L53.26 277.45Z" fill="#c8c41a"/>
<path d="M71.42 273.25L74.82 273.25L73.12 276.31Z" fill="#c8c41a"/>
<path d="M91.28 251.97L94.68 251.97L92.98 255.03Z" fill="#c8c41a"/>
<path d="M111.14 235.72L114.54 235.72L112.84 238.78Z" fill="#c8c41a"/>
<path d="M131 213.94L134.4 213.94L132.7 217Z" fill="#c8c41a"/>
<path d="M150.86 209.88L154.26 209.88L152.56 212.94Z" fill="#c8c41a"/>
<path d="M170.72 201.26L174.12 201.26L172.42 204.32Z" fill="#c8c41a"/>
<path d="M33.4 273.48V273.15M53.26 268.44V264.7M73.12 255.76V239.51M92.98 231.39V209.45M152.56 203.76V191.41M172.42 201.49V189.46" stroke="#359435" stroke-width="1" fill="none"/>
<path d="M31.4 273.15H35.4M51.26 264.7H55.26M71.12 239.51H75.12M90.98 209.45H94.98M110.84 225.7H114.84M130.7 198.4H134.7M150.56 191.41H154.56M170.42 189.46H174.42" stroke="#298e29" stroke-width="1.1" fill="none"/>
<path d="M33.4 276.4L53.26 271.69L73.12 255.76L92.98 237.56L112.84 233.83L132.7 218.88L152.56 211.24L172.42 203.93" stroke="#128212" stroke-width="2.1" fill="none" stroke-linejoin="round"/>
<path d="M33.4 274.7L35.1 277.76L31.7 277.76Z" fill="#128212"/>
<path d="M53.26 269.99L54.96 273.05L51.56 273.05Z" fill="#128212"/>
<path d="M73.12 254.06L74.82 257.12L71.42 257.12Z" fill="#128212"/>
<path d="M92.98 235.86L94.68 238.92L91.28 238.92Z" fill="#128212"/>
<path d="M112.84 232.13L114.54 235.19L111.14 235.19Z" fill="#128212"/>
<path d="M132.7 217.18L134.4 220.24L131 220.24Z" fill="#128212"/>
<path d="M152.56 209.54L154.26 212.6L150.86 212.6Z" fill="#128212"/>
<path d="M172.42 202.23L174.12 205.29L170.72 205.29Z" fill="#128212"/>
<path d="M33.4 279.16V273.48M53.26 274.94V268.44M73.12 275.1V269.9M92.98 257.88V231.39M112.84 251.21V224.56M132.7 219.53V192.23M132.7 224.4V221.15M152.56 205.55V203.76M172.42 204.74V201.49" stroke="#2626ff" stroke-width="1" fill="none"/>
<path d="M31.4 273.48H35.4M51.26 268.44H55.26M71.12 269.9H75.12M90.98 231.39H94.98M110.84 224.56H114.84M130.7 192.23H134.7M150.56 203.76H154.56M170.42 201.49H174.42" stroke="#1919ff" stroke-width="1.1" fill="none"/>
<path d="M33.4 279.16L53.26 274.94L73.12 275.1L92.98 257.88L112.84 251.21L132.7 224.4L152.56 210.26L172.42 204.74" stroke="#0000ff" stroke-width="2.1" fill="none" stroke-linejoin="round"/>
<rect x="31.5" y="277.26" width="3.8" height="3.8" fill="#0000ff"/>
<rect x="51.36" y="273.04" width="3.8" height="3.8" fill="#0000ff"/>
<rect x="71.22" y="273.2" width="3.8" height="3.8" fill="#0000ff"/>
<rect x="91.08" y="255.97" width="3.8" height="3.8" fill="#0000ff"/>
<rect x="110.94" y="249.31" width="3.8" height="3.8" fill="#0000ff"/>
<rect x="130.8" y="222.5" width="3.8" height="3.8" fill="#0000ff"/>
<rect x="150.66" y="208.36" width="3.8" height="3.8" fill="#0000ff"/>
<rect x="170.52" y="202.84" width="3.8" height="3.8" fill="#0000ff"/>
<path d="M33.4 256.57V245.2M53.26 242.76V224.89M73.12 227.49V220.66M112.84 217.25V211.56M132.7 221.15V219.53M152.56 213.68V205.55M172.42 219.53V205.71" stroke="#ff2626" stroke-width="1" fill="none"/>
<path d="M31.4 245.2H35.4M51.26 224.89H55.26M71.12 220.66H75.12M110.84 211.56H114.84M130.7 219.53H134.7M150.56 205.55H154.56M170.42 205.71H174.42" stroke="#ff1919" stroke-width="1.1" fill="none"/>
<path d="M33.4 256.57L53.26 242.76L73.12 227.49L92.98 223.26L112.84 217.25L132.7 221.15L152.56 213.68L172.42 219.53" stroke="#ff0000" stroke-width="2.1" fill="none" stroke-linejoin="round"/>
<circle cx="33.4" cy="256.57" r="1.5" fill="#ff0000"/>
<circle cx="53.26" cy="242.76" r="1.5" fill="#ff0000"/>
<circle cx="73.12" cy="227.49" r="1.5" fill="#ff0000"/>
<circle cx="92.98" cy="223.26" r="1.5" fill="#ff0000"/>
<circle cx="112.84" cy="217.25" r="1.5" fill="#ff0000"/>
<circle cx="132.7" cy="221.15" r="1.5" fill="#ff0000"/>
<circle cx="152.56" cy="213.68" r="1.5" fill="#ff0000"/>
<circle cx="172.42" cy="219.53" r="1.5" fill="#ff0000"/>
<path d="M181.3 195.2H192.7" stroke="#ff0000" stroke-width="1.7"/>
<circle cx="187" cy="195.2" r="1.5" fill="#ff0000"/>
<text transform="translate(199.4 198.1) rotate(0.03) scale(1 1.05)" font-size="8.3">E240</text>
<path d="M181.3 207.32H192.7" stroke="#0000ff" stroke-width="1.7"/>
<rect x="185.1" y="205.42" width="3.8" height="3.8" fill="#0000ff"/>
<text transform="translate(199.4 210.22) rotate(0.03) scale(1 1.05)" font-size="8.3">E266</text>
<path d="M181.3 219.44H192.7" stroke="#128212" stroke-width="1.7"/>
<path d="M187 217.74L188.7 220.8L185.3 220.8Z" fill="#128212"/>
<text transform="translate(199.4 222.34) rotate(0.03) scale(1 1.05)" font-size="8.3">E248</text>
<path d="M181.3 231.56H192.7" stroke="#c8c41a" stroke-width="1.7"/>
<path d="M185.3 230.2L188.7 230.2L187 233.26Z" fill="#c8c41a"/>
<text transform="translate(199.4 234.46) rotate(0.03) scale(1 1.05)" font-size="8.3">T448</text>
<path d="M181.3 243.68H192.7" stroke="#ff9a4a" stroke-width="1.7"/>
<path d="M187 242.38L188.3 243.68L187 244.98L185.7 243.68Z" fill="#ff9a4a"/>
<text transform="translate(199.4 246.58) rotate(0.03) scale(1 1.05)" font-size="8.3">E231</text>
<path d="M181.3 255.8H192.7" stroke="#44e8b0" stroke-width="1.7"/>
<circle cx="187" cy="255.8" r="2.35" fill="#44e8b0"/>
<text transform="translate(199.4 258.7) rotate(0.03) scale(1 1.05)" font-size="8.3">T431</text>
<text transform="translate(336.01 174.8) rotate(0.03)" font-size="10.5" text-anchor="middle">Dough</text>
<path d="M256.8 187.08V293.3" fill="none" stroke="#000" stroke-width="1.25"/>
<path d="M253.8 293.3H416" fill="none" stroke="#000" stroke-width="1.25"/>
<path d="M253.8 293.3H256.8M253.8 285.18H256.8M253.8 277.05H256.8M253.8 268.93H256.8M253.8 260.8H256.8M253.8 252.68H256.8M253.8 244.55H256.8M253.8 236.43H256.8M253.8 228.3H256.8M253.8 220.18H256.8M253.8 212.05H256.8M253.8 203.93H256.8M253.8 195.8H256.8M253.8 187.68H256.8M266.5 293.3V296.5M286.36 293.3V296.5M306.22 293.3V296.5M326.08 293.3V296.5M345.94 293.3V296.5M365.8 293.3V296.5M385.66 293.3V296.5M405.52 293.3V296.5" stroke="#000" stroke-width="1.2"/>
<text transform="translate(252.4 296.15) rotate(0.03) scale(1 1.05)" font-size="7.6" text-anchor="end">0</text>
<text transform="translate(252.4 288.03) rotate(0.03) scale(1 1.05)" font-size="7.6" text-anchor="end">5</text>
<text transform="translate(252.4 279.9) rotate(0.03) scale(1 1.05)" font-size="7.6" text-anchor="end">10</text>
<text transform="translate(252.4 271.78) rotate(0.03) scale(1 1.05)" font-size="7.6" text-anchor="end">15</text>
<text transform="translate(252.4 263.65) rotate(0.03) scale(1 1.05)" font-size="7.6" text-anchor="end">20</text>
<text transform="translate(252.4 255.53) rotate(0.03) scale(1 1.05)" font-size="7.6" text-anchor="end">25</text>
<text transform="translate(252.4 247.4) rotate(0.03) scale(1 1.05)" font-size="7.6" text-anchor="end">30</text>
<text transform="translate(252.4 239.28) rotate(0.03) scale(1 1.05)" font-size="7.6" text-anchor="end">35</text>
<text transform="translate(252.4 231.15) rotate(0.03) scale(1 1.05)" font-size="7.6" text-anchor="end">40</text>
<text transform="translate(252.4 223.03) rotate(0.03) scale(1 1.05)" font-size="7.6" text-anchor="end">45</text>
<text transform="translate(252.4 214.9) rotate(0.03) scale(1 1.05)" font-size="7.6" text-anchor="end">50</text>
<text transform="translate(252.4 206.78) rotate(0.03) scale(1 1.05)" font-size="7.6" text-anchor="end">55</text>
<text transform="translate(252.4 198.65) rotate(0.03) scale(1 1.05)" font-size="7.6" text-anchor="end">60</text>
<text transform="translate(252.4 190.53) rotate(0.03) scale(1 1.05)" font-size="7.6" text-anchor="end">65</text>
<text transform="translate(266.5 304.75) rotate(0.03) scale(1 1.05)" font-size="7.6" text-anchor="middle">1</text>
<text transform="translate(286.36 304.75) rotate(0.03) scale(1 1.05)" font-size="7.6" text-anchor="middle">2</text>
<text transform="translate(306.22 304.75) rotate(0.03) scale(1 1.05)" font-size="7.6" text-anchor="middle">3</text>
<text transform="translate(326.08 304.75) rotate(0.03) scale(1 1.05)" font-size="7.6" text-anchor="middle">4</text>
<text transform="translate(345.94 304.75) rotate(0.03) scale(1 1.05)" font-size="7.6" text-anchor="middle">5</text>
<text transform="translate(365.8 304.75) rotate(0.03) scale(1 1.05)" font-size="7.6" text-anchor="middle">6</text>
<text transform="translate(385.66 304.75) rotate(0.03) scale(1 1.05)" font-size="7.6" text-anchor="middle">7</text>
<text transform="translate(405.52 304.75) rotate(0.03) scale(1 1.05)" font-size="7.6" text-anchor="middle">8</text>
<text transform="translate(336.01 316.7) rotate(0.03) scale(1 1.05)" font-size="8.75" text-anchor="middle">Weeks post inoculation</text>
<text transform="translate(239.6 240.49) rotate(-89.97)" font-size="8.65" text-anchor="middle">Lesion length (cm)</text>
<path d="M286.36 241.95V241.14M306.22 242.44V240.81M365.8 221.96V220.34M385.66 213.03V206.36M405.52 210.59V208.96" stroke="#60ebbb" stroke-width="1" fill="none"/>
<path d="M264.5 269.41H268.5M284.36 241.14H288.36M304.22 240.81H308.22M324.08 234.48H328.08M343.94 217.9H347.94M363.8 220.34H367.8M383.66 206.36H387.66M403.52 208.96H407.52" stroke="#56eab7" stroke-width="1.1" fill="none"/>
<path d="M266.5 271.04L286.36 242.76L306.22 242.44L326.08 236.1L345.94 219.53L365.8 221.96L385.66 213.03L405.52 210.59" stroke="#44e8b0" stroke-width="2.1" fill="none" stroke-linejoin="round"/>
<circle cx="266.5" cy="271.04" r="2.35" fill="#44e8b0"/>
<circle cx="286.36" cy="242.76" r="2.35" fill="#44e8b0"/>
<circle cx="306.22" cy="242.44" r="2.35" fill="#44e8b0"/>
<circle cx="326.08" cy="236.1" r="2.35" fill="#44e8b0"/>
<circle cx="345.94" cy="219.53" r="2.35" fill="#44e8b0"/>
<circle cx="365.8" cy="221.96" r="2.35" fill="#44e8b0"/>
<circle cx="385.66" cy="213.03" r="2.35" fill="#44e8b0"/>
<circle cx="405.52" cy="210.59" r="2.35" fill="#44e8b0"/>
<path d="M286.36 239.51V233.66M306.22 237.56V236.43M365.8 213.68V213.35M385.66 205.88V202.62M405.52 205.88V204.74" stroke="#ffa965" stroke-width="1" fill="none"/>
<path d="M264.5 264.21H268.5M284.36 233.01H288.36M304.22 231.06H308.22M324.08 230.74H328.08M343.94 206.36H347.94M363.8 210.43H367.8M383.66 202.62H387.66M403.52 202.62H407.52" stroke="#ffa45c" stroke-width="1.1" fill="none"/>
<path d="M266.5 268.11L286.36 239.51L306.22 237.56L326.08 237.24L345.94 215.62L365.8 213.68L385.66 205.88L405.52 205.88" stroke="#ff9a4a" stroke-width="2.1" fill="none" stroke-linejoin="round"/>
<path d="M266.5 266.81L267.8 268.11L266.5 269.41L265.2 268.11Z" fill="#ff9a4a"/>
<path d="M286.36 238.21L287.66 239.51L286.36 240.81L285.06 239.51Z" fill="#ff9a4a"/>
<path d="M306.22 236.26L307.52 237.56L306.22 238.86L304.92 237.56Z" fill="#ff9a4a"/>
<path d="M326.08 235.94L327.38 237.24L326.08 238.54L324.78 237.24Z" fill="#ff9a4a"/>
<path d="M345.94 214.32L347.24 215.62L345.94 216.93L344.64 215.62Z" fill="#ff9a4a"/>
<path d="M365.8 212.38L367.1 213.68L365.8 214.98L364.5 213.68Z" fill="#ff9a4a"/>
<path d="M385.66 204.57L386.96 205.88L385.66 207.18L384.36 205.88Z" fill="#ff9a4a"/>
<path d="M405.52 204.57L406.82 205.88L405.52 207.18L404.22 205.88Z" fill="#ff9a4a"/>
<path d="M266.5 262.43V256.9M286.36 246.66V245.04M306.22 245.53V243.9M326.08 246.34V244.71M385.66 194.5V190.6M405.52 195.8V189.46" stroke="#d0cc3c" stroke-width="1" fill="none"/>
<path d="M264.5 256.9H268.5M284.36 245.04H288.36M304.22 243.9H308.22M324.08 244.71H328.08M343.94 213.68H347.94M363.8 193.52H367.8M383.66 190.6H387.66M403.52 189.46H407.52" stroke="#cdc930" stroke-width="1.1" fill="none"/>
<path d="M266.5 271.36L286.36 246.66L306.22 245.53L326.08 246.34L345.94 215.3L365.8 208.64L385.66 198.89L405.52 195.8" stroke="#c8c41a" stroke-width="2.1" fill="none" stroke-linejoin="round"/>
<path d="M264.8 270L268.2 270L266.5 273.06Z" fill="#c8c41a"/>
<path d="M284.66 245.3L288.06 245.3L286.36 248.36Z" fill="#c8c41a"/>
<path d="M304.52 244.16L307.92 244.16L306.22 247.22Z" fill="#c8c41a"/>
<path d="M324.38 244.98L327.78 244.98L326.08 248.04Z" fill="#c8c41a"/>
<path d="M344.24 213.94L347.64 213.94L345.94 217Z" fill="#c8c41a"/>
<path d="M364.1 207.28L367.5 207.28L365.8 210.34Z" fill="#c8c41a"/>
<path d="M383.96 197.53L387.36 197.53L385.66 200.59Z" fill="#c8c41a"/>
<path d="M403.82 194.44L407.22 194.44L405.52 197.5Z" fill="#c8c41a"/>
<path d="M266.5 265.68V262.43M286.36 243.58V241.95M306.22 239.51V237.89M326.08 204.74V201.32M365.8 200.51V188.98" stroke="#359435" stroke-width="1" fill="none"/>
<path d="M264.5 262.43H268.5M284.36 241.95H288.36M304.22 237.89H308.22M324.08 201.32H328.08M343.94 213.35H347.94M363.8 188.98H367.8M383.66 198.89H387.66M403.52 201.98H407.52" stroke="#298e29" stroke-width="1.1" fill="none"/>
<path d="M266.5 270.55L286.36 243.58L306.22 239.51L326.08 240.81L345.94 214.98L365.8 212.05L385.66 200.51L405.52 203.6" stroke="#128212" stroke-width="2.1" fill="none" stroke-linejoin="round"/>
<path d="M266.5 268.85L268.2 271.91L264.8 271.91Z" fill="#128212"/>
<path d="M286.36 241.88L288.06 244.94L284.66 244.94Z" fill="#128212"/>
<path d="M306.22 237.81L307.92 240.87L304.52 240.87Z" fill="#128212"/>
<path d="M326.08 239.11L327.78 242.17L324.38 242.17Z" fill="#128212"/>
<path d="M345.94 213.28L347.64 216.34L344.24 216.34Z" fill="#128212"/>
<path d="M365.8 210.35L367.5 213.41L364.1 213.41Z" fill="#128212"/>
<path d="M385.66 198.81L387.36 201.87L383.96 201.87Z" fill="#128212"/>
<path d="M405.52 201.9L407.22 204.96L403.82 204.96Z" fill="#128212"/>
<path d="M266.5 271.85V265.68M286.36 233.66V209.45M306.22 210.91V208.8M306.22 236.43V217.74M326.08 241.62V213.03M345.94 208.31V196.45M345.94 224.24V215.14M365.8 213.35V200.51M385.66 201.98V194.5M405.52 204.74V200.03" stroke="#2626ff" stroke-width="1" fill="none"/>
<path d="M264.5 265.68H268.5M284.36 209.45H288.36M304.22 208.8H308.22M324.08 209.12H328.08M343.94 196.45H347.94M363.8 200.51H367.8M383.66 194.5H387.66M403.52 200.03H407.52" stroke="#1919ff" stroke-width="1.1" fill="none"/>
<path d="M266.5 271.85L286.36 233.66L306.22 236.43L326.08 241.62L345.94 224.24L365.8 213.35L385.66 201.98L405.52 204.74" stroke="#0000ff" stroke-width="2.1" fill="none" stroke-linejoin="round"/>
<rect x="264.6" y="269.95" width="3.8" height="3.8" fill="#0000ff"/>
<rect x="284.46" y="231.76" width="3.8" height="3.8" fill="#0000ff"/>
<rect x="304.32" y="234.53" width="3.8" height="3.8" fill="#0000ff"/>
<rect x="324.18" y="239.72" width="3.8" height="3.8" fill="#0000ff"/>
<rect x="344.04" y="222.34" width="3.8" height="3.8" fill="#0000ff"/>
<rect x="363.9" y="211.45" width="3.8" height="3.8" fill="#0000ff"/>
<rect x="383.76" y="200.08" width="3.8" height="3.8" fill="#0000ff"/>
<rect x="403.62" y="202.84" width="3.8" height="3.8" fill="#0000ff"/>
<path d="M266.5 228.62V223.26M306.22 217.74V210.91M326.08 213.03V204.74M345.94 215.14V208.31M365.8 218.06V216.44M385.66 223.91V220.66M405.52 218.88V213.03" stroke="#ff2626" stroke-width="1" fill="none"/>
<path d="M264.5 223.26H268.5M304.22 210.91H308.22M324.08 204.74H328.08M343.94 208.31H347.94M363.8 216.44H367.8M383.66 220.66H387.66M403.52 213.03H407.52" stroke="#ff1919" stroke-width="1.1" fill="none"/>
<path d="M266.5 228.62L286.36 220.82L306.22 217.74L326.08 213.03L345.94 215.14L365.8 218.06L385.66 223.91L405.52 218.88" stroke="#ff0000" stroke-width="2.1" fill="none" stroke-linejoin="round"/>
<circle cx="266.5" cy="228.62" r="1.5" fill="#ff0000"/>
<circle cx="286.36" cy="220.82" r="1.5" fill="#ff0000"/>
<circle cx="306.22" cy="217.74" r="1.5" fill="#ff0000"/>
<circle cx="326.08" cy="213.03" r="1.5" fill="#ff0000"/>
<circle cx="345.94" cy="215.14" r="1.5" fill="#ff0000"/>
<circle cx="365.8" cy="218.06" r="1.5" fill="#ff0000"/>
<circle cx="385.66" cy="223.91" r="1.5" fill="#ff0000"/>
<circle cx="405.52" cy="218.88" r="1.5" fill="#ff0000"/>
<path d="M414.6 195.2H426" stroke="#ff0000" stroke-width="1.7"/>
<circle cx="420.3" cy="195.2" r="1.5" fill="#ff0000"/>
<text transform="translate(432.7 198.1) rotate(0.03) scale(1 1.05)" font-size="8.3">E240</text>
<path d="M414.6 207.32H426" stroke="#0000ff" stroke-width="1.7"/>
<rect x="418.4" y="205.42" width="3.8" height="3.8" fill="#0000ff"/>
<text transform="translate(432.7 210.22) rotate(0.03) scale(1 1.05)" font-size="8.3">E266</text>
<path d="M414.6 219.44H426" stroke="#128212" stroke-width="1.7"/>
<path d="M420.3 217.74L422 220.8L418.6 220.8Z" fill="#128212"/>
<text transform="translate(432.7 222.34) rotate(0.03) scale(1 1.05)" font-size="8.3">E248</text>
<path d="M414.6 231.56H426" stroke="#c8c41a" stroke-width="1.7"/>
<path d="M418.6 230.2L422 230.2L420.3 233.26Z" fill="#c8c41a"/>
<text transform="translate(432.7 234.46) rotate(0.03) scale(1 1.05)" font-size="8.3">T448</text>
<path d="M414.6 243.68H426" stroke="#ff9a4a" stroke-width="1.7"/>
<path d="M420.3 242.38L421.6 243.68L420.3 244.98L419 243.68Z" fill="#ff9a4a"/>
<text transform="translate(432.7 246.58) rotate(0.03) scale(1 1.05)" font-size="8.3">E231</text>
<path d="M414.6 255.8H426" stroke="#44e8b0" stroke-width="1.7"/>
<circle cx="420.3" cy="255.8" r="2.35" fill="#44e8b0"/>
<text transform="translate(432.7 258.7) rotate(0.03) scale(1 1.05)" font-size="8.3">T431</text>
</svg>
</body></html>
